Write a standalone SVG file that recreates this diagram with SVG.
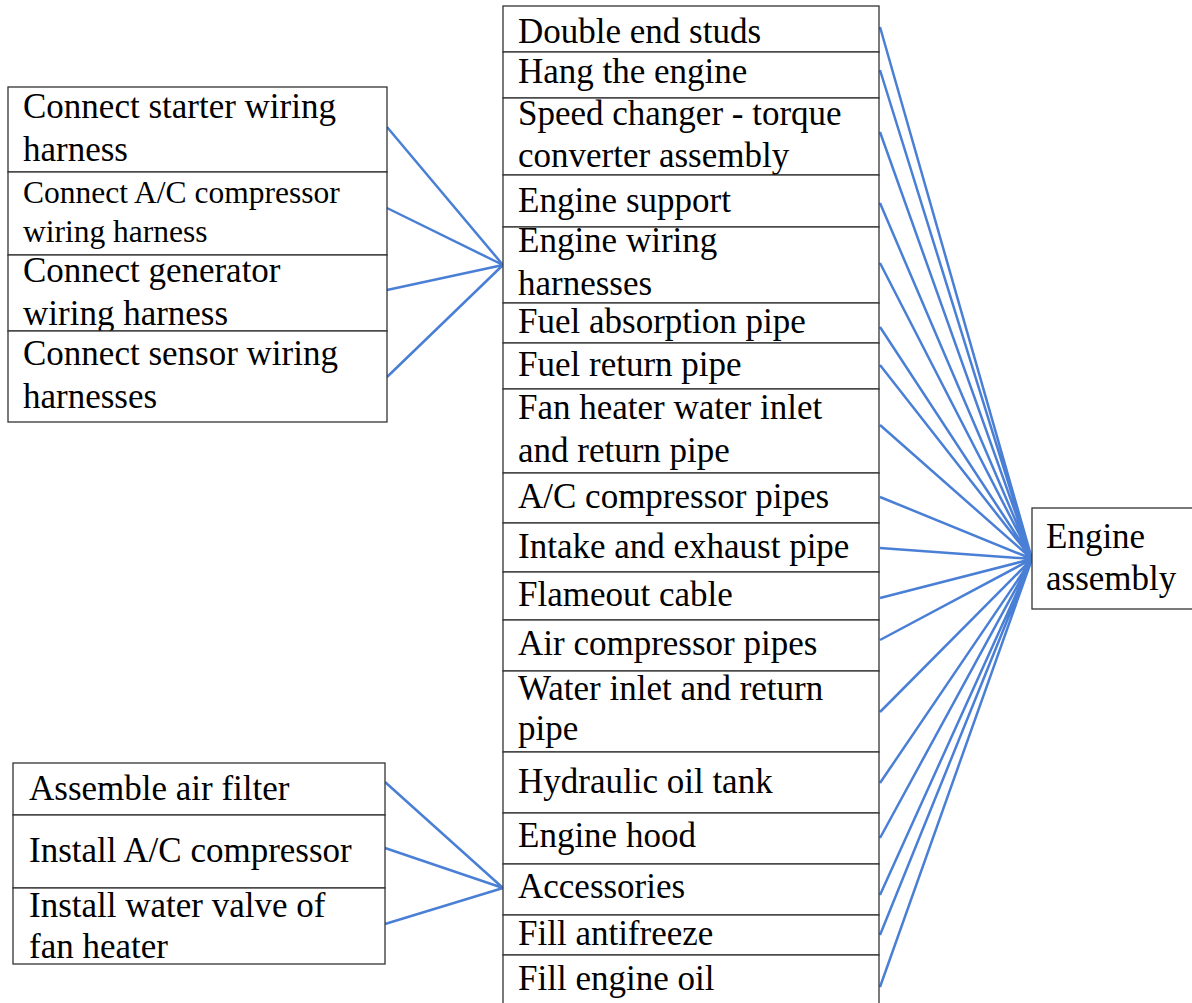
<svg xmlns="http://www.w3.org/2000/svg" width="1192" height="1003" viewBox="0 0 1192 1003">
<style>
.box{fill:#fff;stroke:#333;stroke-width:1.3}
text{font-family:'Times New Roman','Liberation Serif',Tinos,serif;font-size:35px;fill:#000}
.s{font-size:31.5px}
.c{stroke:#4a7fd6;stroke-width:2.5;fill:none}
</style>
<rect width="1192" height="1003" fill="#fff"/>
<g id="connectors">
<path class="c" d="M387,127 L503,265 M387,208 L503,265 M387,290 L503,265 M387,377 L503,265"/>
<path class="c" d="M385,782 L503,888 M385,848 L503,888 M385,924 L503,888"/>
<path class="c" d="M880,27 L1032,559 M880,70 L1032,559 M880,132 L1032,559 M880,203 L1032,559 M880,263 L1032,559 M880,327 L1032,559 M880,365 L1032,559 M880,425 L1032,559 M880,497 L1032,559 M880,548 L1032,559 M880,598 L1032,559 M880,640 L1032,559 M880,712 L1032,559 M880,783 L1032,559 M880,838 L1032,559 M880,895 L1032,559 M880,935 L1032,559 M880,987 L1032,559"/>
</g>
<g id="center-column">
<g id="n-double-end-studs"><rect class="box" x="503" y="6" width="376" height="46"/><text x="518" y="43">Double end studs</text></g>
<g id="n-hang-engine"><rect class="box" x="503" y="52" width="376" height="46"/><text x="518" y="83">Hang the engine</text></g>
<g id="n-speed-changer"><rect class="box" x="503" y="98" width="376" height="77"/><text x="518" y="125">Speed changer - torque</text><text x="518" y="167">converter assembly</text></g>
<g id="n-engine-support"><rect class="box" x="503" y="175" width="376" height="52"/><text x="518" y="212">Engine support</text></g>
<g id="n-engine-wiring"><rect class="box" x="503" y="227" width="376" height="76"/><text x="518" y="252">Engine wiring</text><text x="518" y="295">harnesses</text></g>
<g id="n-fuel-absorption"><rect class="box" x="503" y="303" width="376" height="40"/><text x="518" y="333">Fuel absorption pipe</text></g>
<g id="n-fuel-return"><rect class="box" x="503" y="343" width="376" height="46"/><text x="518" y="376">Fuel return pipe</text></g>
<g id="n-fan-heater"><rect class="box" x="503" y="389" width="376" height="84"/><text x="518" y="419">Fan heater water inlet</text><text x="518" y="462">and return pipe</text></g>
<g id="n-ac-pipes"><rect class="box" x="503" y="473" width="376" height="50"/><text x="518" y="508">A/C compressor pipes</text></g>
<g id="n-intake"><rect class="box" x="503" y="523" width="376" height="49"/><text x="518" y="558">Intake and exhaust pipe</text></g>
<g id="n-flameout"><rect class="box" x="503" y="572" width="376" height="48"/><text x="518" y="606">Flameout cable</text></g>
<g id="n-air-compressor"><rect class="box" x="503" y="620" width="376" height="51"/><text x="518" y="655">Air compressor pipes</text></g>
<g id="n-water-inlet"><rect class="box" x="503" y="671" width="376" height="81"/><text x="518" y="700">Water inlet and return</text><text x="518" y="740">pipe</text></g>
<g id="n-hydraulic"><rect class="box" x="503" y="752" width="376" height="61"/><text x="518" y="793">Hydraulic oil tank</text></g>
<g id="n-engine-hood"><rect class="box" x="503" y="813" width="376" height="51"/><text x="518" y="847">Engine hood</text></g>
<g id="n-accessories"><rect class="box" x="503" y="864" width="376" height="51"/><text x="518" y="898">Accessories</text></g>
<g id="n-antifreeze"><rect class="box" x="503" y="915" width="376" height="40"/><text x="518" y="945">Fill antifreeze</text></g>
<g id="n-engine-oil"><rect class="box" x="503" y="955" width="376" height="50"/><text x="518" y="990">Fill engine oil</text></g>
</g>
<g id="left-top">
<g id="n-starter"><rect class="box" x="8" y="87" width="379" height="85"/><text x="23" y="118">Connect starter wiring</text><text x="23" y="161">harness</text></g>
<g id="n-ac-wiring"><rect class="box" x="8" y="172" width="379" height="83"/><text class="s" x="23" y="203">Connect A/C compressor</text><text class="s" x="23" y="242">wiring harness</text></g>
<g id="n-generator"><rect class="box" x="8" y="255" width="379" height="76"/><text x="23" y="282">Connect generator</text><text x="23" y="325">wiring harness</text></g>
<g id="n-sensor"><rect class="box" x="8" y="331" width="379" height="91"/><text x="23" y="365">Connect sensor wiring</text><text x="23" y="408">harnesses</text></g>
</g>
<g id="left-bottom">
<g id="n-air-filter"><rect class="box" x="13" y="763" width="372" height="52"/><text x="29" y="800">Assemble air filter</text></g>
<g id="n-install-ac"><rect class="box" x="13" y="815" width="372" height="73"/><text x="29" y="862">Install A/C compressor</text></g>
<g id="n-water-valve"><rect class="box" x="13" y="888" width="372" height="76"/><text x="29" y="917">Install water valve of</text><text x="29" y="958">fan heater</text></g>
</g>
<g id="n-engine-assembly"><rect class="box" x="1032" y="508" width="165" height="101"/><text x="1046" y="548">Engine</text><text x="1046" y="590">assembly</text></g>
</svg>
